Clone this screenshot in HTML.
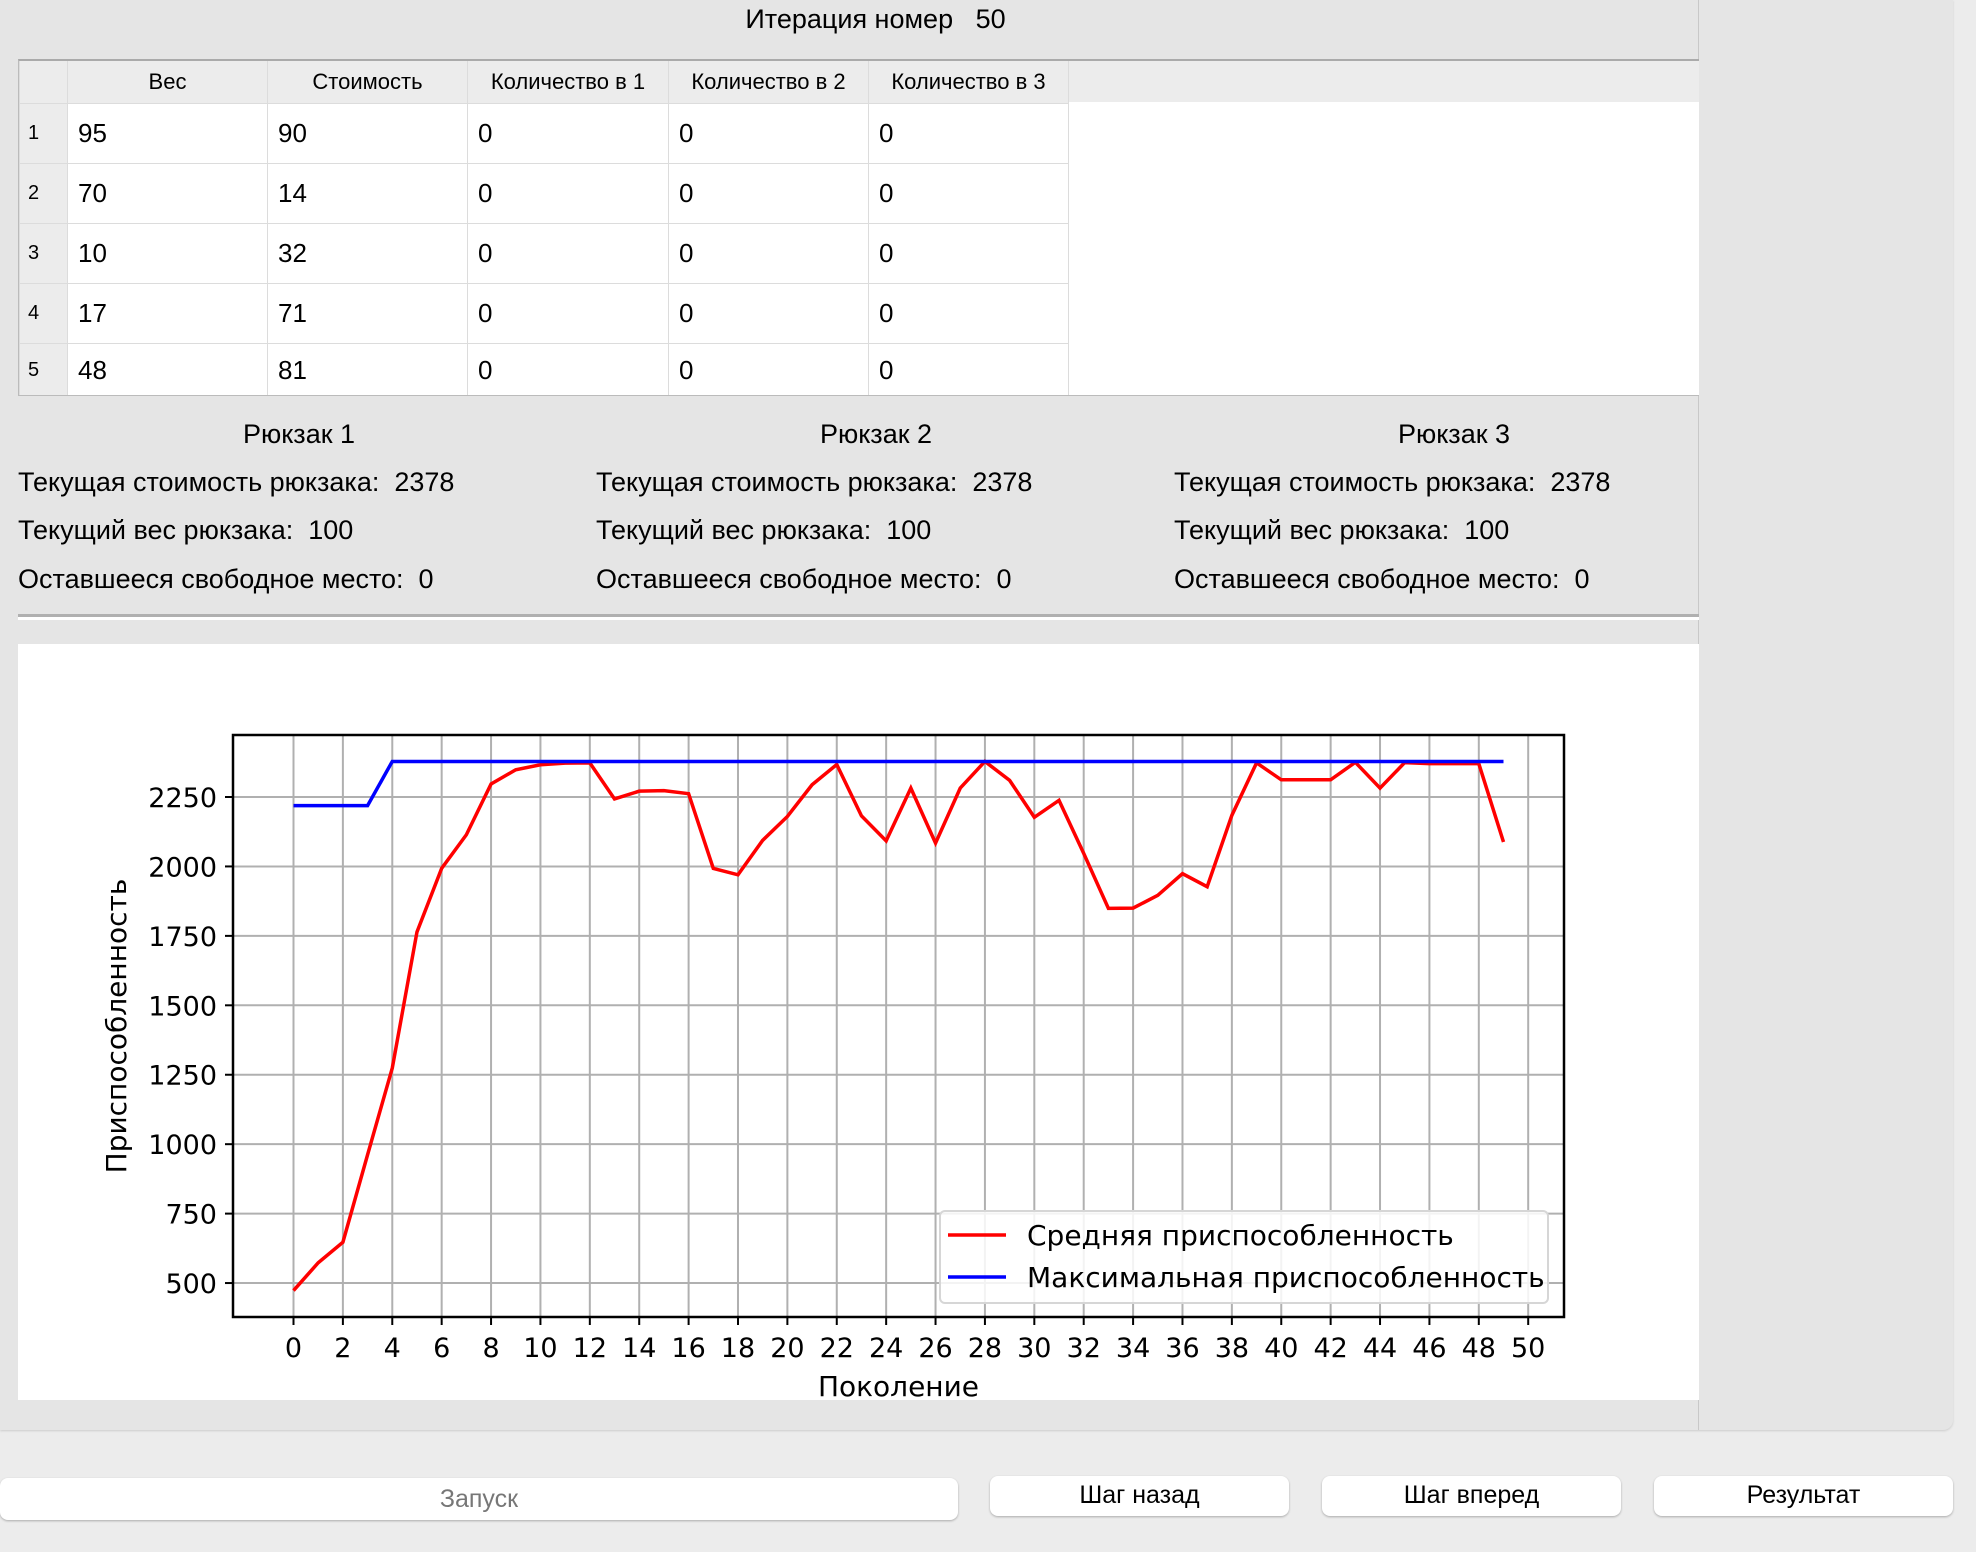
<!DOCTYPE html>
<html><head><meta charset="utf-8">
<style>
body{margin:0;width:1976px;height:1552px;background:#ececec;font-family:"Liberation Sans",sans-serif;position:relative;overflow:hidden;color:#000}
.abs{position:absolute}
#panel{left:0;top:0;width:1953px;height:1430px;background:#e5e5e5;border-bottom-right-radius:10px;box-shadow:0 1px 2px #ccc}
#rightline{left:1698px;top:0;width:1px;height:1430px;background:#c8c8c8}
table{border-collapse:collapse;font-size:26px}
td,th{border:1px solid #dcdcdc;padding:0;box-sizing:border-box}
th{font-weight:normal;font-size:22px;height:42px;background:#ececec;border-top:none}
td{height:60px;background:#fff;padding-left:10px}
tr.last td{height:54px}
td.rh{background:#ececec;width:48px;font-size:20px;padding-left:8px}
.lbl{font-size:27px;white-space:nowrap}
.btn{background:#fff;border-radius:8px;box-shadow:0 1px 2px #aaa;font-size:25px;text-align:center;box-sizing:border-box}
</style></head><body>
<div class="abs" id="panel"></div>
<div class="abs" id="rightline"></div>
<div class="abs lbl" style="left:0;width:1751px;top:4px;text-align:center">Итерация номер&nbsp;&nbsp;&nbsp;50</div>
<div class="abs" style="left:18px;top:59px;width:1681px;height:337px;background:#fff;border-top:2px solid #aaa;border-left:1px solid #bbb;border-bottom:1px solid #bbb;box-sizing:border-box;overflow:hidden">
<div style="position:absolute;left:0;top:0;right:0;height:41px;background:#ececec"></div>
<table class="abs" style="left:0;top:0">
<tr><th style="width:48px"></th><th style="width:200px">Вес</th><th style="width:200px">Стоимость</th><th style="width:201px">Количество в 1</th><th style="width:200px">Количество в 2</th><th style="width:200px">Количество в 3</th></tr>
<tr><td class="rh">1</td><td>95</td><td>90</td><td>0</td><td>0</td><td>0</td></tr>
<tr><td class="rh">2</td><td>70</td><td>14</td><td>0</td><td>0</td><td>0</td></tr>
<tr><td class="rh">3</td><td>10</td><td>32</td><td>0</td><td>0</td><td>0</td></tr>
<tr><td class="rh">4</td><td>17</td><td>71</td><td>0</td><td>0</td><td>0</td></tr>
<tr class="last"><td class="rh">5</td><td>48</td><td>81</td><td>0</td><td>0</td><td>0</td></tr>
</table></div>

<div class="abs lbl" style="left:199px;width:200px;top:419px;text-align:center">Рюкзак 1</div>
<div class="abs lbl" style="left:776px;width:200px;top:419px;text-align:center">Рюкзак 2</div>
<div class="abs lbl" style="left:1354px;width:200px;top:419px;text-align:center">Рюкзак 3</div>
<div class="abs lbl" style="left:18px;top:467px">Текущая стоимость рюкзака:&nbsp;&nbsp;2378</div>
<div class="abs lbl" style="left:18px;top:515px">Текущий вес рюкзака:&nbsp;&nbsp;100</div>
<div class="abs lbl" style="left:18px;top:564px">Оставшееся свободное место:&nbsp;&nbsp;0</div>
<div class="abs lbl" style="left:596px;top:467px">Текущая стоимость рюкзака:&nbsp;&nbsp;2378</div>
<div class="abs lbl" style="left:596px;top:515px">Текущий вес рюкзака:&nbsp;&nbsp;100</div>
<div class="abs lbl" style="left:596px;top:564px">Оставшееся свободное место:&nbsp;&nbsp;0</div>
<div class="abs lbl" style="left:1174px;top:467px">Текущая стоимость рюкзака:&nbsp;&nbsp;2378</div>
<div class="abs lbl" style="left:1174px;top:515px">Текущий вес рюкзака:&nbsp;&nbsp;100</div>
<div class="abs lbl" style="left:1174px;top:564px">Оставшееся свободное место:&nbsp;&nbsp;0</div>
<div class="abs" style="left:18px;top:614px;width:1681px;height:3px;background:#b0b0b0"></div>
<div class="abs" style="left:18px;top:617px;width:1681px;height:3px;background:#fff"></div>

<div class="abs" style="left:18px;top:644px;width:1681px;height:756px;background:#fff"></div>
<svg class="abs" id="chart" style="left:0;top:0" width="1976" height="1552"></svg>

<div class="abs btn" style="left:0;top:1478px;width:958px;height:42px;line-height:42px;color:#777">Запуск</div>
<div class="abs btn" style="left:990px;top:1476px;width:299px;height:40px;line-height:38px">Шаг назад</div>
<div class="abs btn" style="left:1322px;top:1476px;width:299px;height:40px;line-height:38px">Шаг вперед</div>
<div class="abs btn" style="left:1654px;top:1476px;width:299px;height:40px;line-height:38px">Результат</div>

<script>
const generations = Array.from({length:50},(_,i)=>i);
const avgFitness = [473,573,647,962,1274,1764,1993,2114,2297,2348,2366,2372,2373,2243,2271,2273,2262,1993,1970,2094,2180,2294,2367,2182,2092,2282,2084,2282,2378,2310,2177,2238,2047,1849,1850,1896,1974,1927,2184,2373,2312,2312,2312,2375,2282,2374,2370,2370,2370,2088];
const maxFitness = [2219,2219,2219,2219,2378,2378,2378,2378,2378,2378,2378,2378,2378,2378,2378,2378,2378,2378,2378,2378,2378,2378,2378,2378,2378,2378,2378,2378,2378,2378,2378,2378,2378,2378,2378,2378,2378,2378,2378,2378,2378,2378,2378,2378,2378,2378,2378,2378,2378,2378];
const xTicks = [0,2,4,6,8,10,12,14,16,18,20,22,24,26,28,30,32,34,36,38,40,42,44,46,48,50];
const yTicks = [500,750,1000,1250,1500,1750,2000,2250];
const seriesNames = ["Средняя приспособленность","Максимальная приспособленность"];

const svg=document.getElementById('chart');const NS='http://www.w3.org/2000/svg';
const L=233,R=1564,T=735,B=1317;
const allV=avgFitness.concat(maxFitness);
const vmin=Math.min(...allV),vmax=Math.max(...allV),pad=(vmax-vmin)*0.05;
const y0=vmin-pad,y1=vmax+pad;
const n=generations.length-1,x0=-0.05*n,x1=n+0.05*n;
const sx=v=>L+(v-x0)/(x1-x0)*(R-L);
const sy=v=>B-(v-y0)/(y1-y0)*(B-T);
function el(t,a){const e=document.createElementNS(NS,t);for(const k in a)e.setAttribute(k,a[k]);svg.appendChild(e);return e;}
xTicks.forEach(t=>{
 const g=el('line',{x1:sx(t),x2:sx(t),y1:T,y2:B,stroke:'#b0b0b0','stroke-width':2});
 
 
 const tx=el('text',{x:sx(t),y:B+40,'text-anchor':'middle','font-size':27,'font-family':'DejaVu Sans, sans-serif'});tx.textContent=t;
 
 
 el('line',{x1:sx(t),x2:sx(t),y1:B,y2:B+8,stroke:'#000','stroke-width':2});
});
yTicks.forEach(t=>{
 const g=el('line',{x1:L,x2:R,y1:sy(t),y2:sy(t),stroke:'#b0b0b0','stroke-width':2});
 
 
 el('line',{x1:L-8,x2:L,y1:sy(t),y2:sy(t),stroke:'#000','stroke-width':2});
 const tx=el('text',{x:L-16,y:sy(t)+10,'text-anchor':'end','font-size':27,'font-family':'DejaVu Sans, sans-serif'});tx.textContent=t;
 
 
});
function line(vals,color,name){
 const p=el('polyline',{points:vals.map((v,i)=>sx(generations[i])+','+sy(v)).join(' '),fill:'none',stroke:color,'stroke-width':3.5,'stroke-linejoin':'miter'});
 
 
}
line(avgFitness,'#ff0000','avg-fitness-line');
line(maxFitness,'#0000ff','max-fitness-line');
const fr=el('rect',{x:L,y:T,width:R-L,height:B-T,fill:'none',stroke:'#000','stroke-width':2.5});


const lg=el('rect',{x:940,y:1211,width:608,height:92,rx:5,fill:'#fff','fill-opacity':0.85,stroke:'#d6d6d6','stroke-width':2});


[['#ff0000',1235],['#0000ff',1277]].forEach((c,i)=>{
 el('line',{x1:948,x2:1006,y1:c[1],y2:c[1],stroke:c[0],'stroke-width':3.5});
 const t=el('text',{x:1027,y:c[1]+10,'font-size':28,'font-family':'DejaVu Sans, sans-serif'});t.textContent=seriesNames[i];
 
 
});
const xl=el('text',{x:(L+R)/2,y:1396,'text-anchor':'middle','font-size':28,'font-family':'DejaVu Sans, sans-serif'});xl.textContent='Поколение';


const yl=el('text',{x:0,y:0,'text-anchor':'middle','font-size':28,'font-family':'DejaVu Sans, sans-serif',transform:'translate(126,1026) rotate(-90)'});yl.textContent='Приспособленность';


</script>
</body></html>
